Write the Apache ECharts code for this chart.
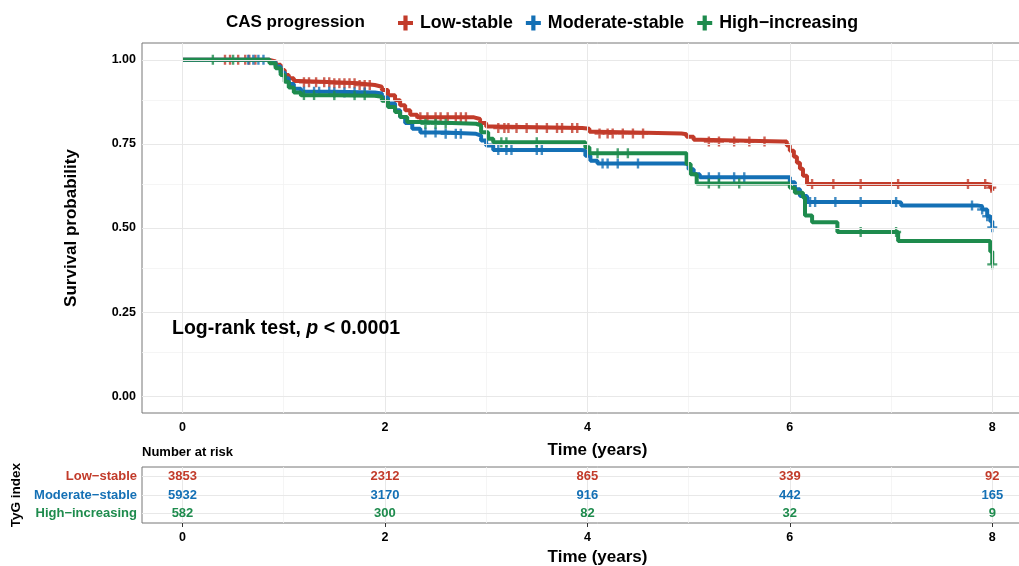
<!DOCTYPE html>
<html><head><meta charset="utf-8">
<script src="https://cdn.jsdelivr.net/npm/echarts@6/dist/echarts.min.js"></script>
<style>html,body{margin:0;padding:0;overflow:hidden;background:#fff;width:1019px;height:566px}#c{width:1060px;height:566px}</style>
</head><body><div id="c"></div><script>
const legendNames = ['Low-stable', 'Moderate-stable', 'High\u2212increasing'];
const tableLabels = ['Low\u2212stable', 'Moderate\u2212stable', 'High\u2212increasing'];
const groupColors = ['#C23B2A', '#1470B5', '#1E8B4D'];

const lowStable = [[0,1],[0.86,0.995],[0.92,0.985],[0.97,0.97],[1.01,0.955],[1.05,0.945],[1.1,0.937],[1.15,0.933],[1.5,0.93],[1.75,0.925],[1.9,0.92],[1.97,0.91],[2.03,0.895],[2.1,0.88],[2.15,0.865],[2.2,0.85],[2.25,0.837],[2.32,0.829],[2.88,0.824],[2.94,0.812],[3.0,0.802],[3.07,0.797],[3.95,0.795],[4.02,0.786],[4.1,0.781],[4.93,0.779],[4.98,0.771],[5.05,0.762],[5.12,0.757],[5.93,0.757],[5.97,0.745],[6.0,0.73],[6.04,0.712],[6.07,0.694],[6.1,0.676],[6.13,0.655],[6.17,0.631],[7.95,0.629],[7.98,0.62],[8.0,0.611]];
const moderateStable = [[0,1],[0.86,0.993],[0.92,0.98],[0.97,0.962],[1.01,0.945],[1.05,0.928],[1.1,0.914],[1.17,0.905],[1.5,0.903],[1.9,0.9],[1.97,0.888],[2.03,0.87],[2.1,0.85],[2.15,0.83],[2.2,0.812],[2.27,0.795],[2.35,0.784],[2.6,0.78],[2.9,0.775],[2.95,0.76],[3.0,0.745],[3.07,0.732],[3.93,0.731],[3.98,0.715],[4.03,0.7],[4.1,0.692],[4.95,0.69],[5.0,0.675],[5.05,0.66],[5.11,0.651],[5.95,0.651],[6.0,0.636],[6.05,0.615],[6.1,0.595],[6.17,0.577],[7.06,0.576],[7.1,0.567],[7.85,0.565],[7.9,0.555],[7.95,0.535],[7.98,0.52],[8.0,0.502]];
const highIncreasing = [[0,1],[0.86,0.99],[0.92,0.975],[0.97,0.955],[1.01,0.935],[1.05,0.918],[1.1,0.903],[1.17,0.895],[1.5,0.893],[1.9,0.89],[1.97,0.878],[2.03,0.86],[2.1,0.845],[2.15,0.83],[2.22,0.815],[2.35,0.81],[2.9,0.805],[2.95,0.785],[3.02,0.765],[3.07,0.755],[3.95,0.755],[3.98,0.74],[4.02,0.722],[4.95,0.722],[4.98,0.69],[5.02,0.66],[5.08,0.632],[5.95,0.632],[6.0,0.62],[6.05,0.605],[6.13,0.591],[6.15,0.537],[6.22,0.517],[6.47,0.488],[7.07,0.461],[7.98,0.43],[8.0,0.392]];

const lowCensor = [0.42,0.47,0.55,0.62,0.66,0.72,1.2,1.25,1.32,1.4,1.45,1.5,1.55,1.6,1.65,1.7,1.75,1.8,1.85,2.35,2.42,2.5,2.55,2.62,2.7,2.75,2.8,3.12,3.18,3.22,3.3,3.4,3.5,3.6,3.7,3.75,3.85,3.9,4.12,4.2,4.25,4.35,4.45,4.55,5.2,5.3,5.45,5.6,5.75,6.22,6.43,6.7,7.07,7.76,7.93,7.99];
const moderateCensor = [0.65,0.7,0.75,0.8,1.2,1.3,1.35,1.45,1.5,1.6,1.7,1.8,2.4,2.5,2.6,2.7,2.75,3.12,3.2,3.25,3.5,3.55,4.15,4.2,4.3,4.5,5.2,5.3,5.45,5.55,6.2,6.25,6.45,6.7,7.05,7.8,7.9,7.95,8.0];
const highCensor = [0.3,0.5,1.2,1.3,1.5,1.7,1.8,2.4,2.5,2.6,3.15,3.2,3.5,4.1,4.3,4.4,5.2,5.3,5.5,6.7,7.05,8.0];

const xTicks = [0, 2, 4, 6, 8];
const xMinor = [1, 3, 5, 7];
const yTicks = [0, 0.25, 0.5, 0.75, 1];
const yMinor = [0.125, 0.375, 0.625, 0.875];

const riskTimes = [0, 2, 4, 6, 8];
const riskLow = [3853, 2312, 865, 339, 92];
const riskModerate = [5932, 3170, 916, 442, 165];
const riskHigh = [582, 300, 82, 32, 9];

const curves = [lowStable, moderateStable, highIncreasing];
const censors = [lowCensor, moderateCensor, highCensor];
const risks = [riskLow, riskModerate, riskHigh];

function survAt(curve, t) {
  let s = curve[0][1];
  for (const p of curve) { if (p[0] <= t) s = p[1]; else break; }
  return s;
}
const FONT = '"Liberation Sans", Arial, sans-serif';
const PLUS = 'path://M3.8,0H6.2V3.8H10V6.2H6.2V10H3.8V6.2H0V3.8H3.8Z';
const PLUS_LEG = 'path://M3.6,0H6.4V3.6H10V6.4H6.4V10H3.6V6.4H0V3.6H3.6Z';

const chart = echarts.init(document.getElementById('c'), null, {renderer: 'canvas'});

function gridLines(xs, ys, color, width) {
  return [
    ...xs.map(v => ({xAxis: v, lineStyle: {color: color, width: width, type: 'solid'}})),
    ...ys.map(v => ({yAxis: v, lineStyle: {color: color, width: width, type: 'solid'}}))
  ];
}

const series = [];
series.push({
  type: 'line', xAxisIndex: 0, yAxisIndex: 0, data: [[0, 1]], showSymbol: false,
  lineStyle: {opacity: 0}, silent: true, z: 0,
  markLine: {silent: true, symbol: ['none', 'none'], label: {show: false}, animation: false,
    data: [...gridLines(xMinor, yMinor, '#f3f3f3', 0.8), ...gridLines(xTicks, yTicks, '#e8e8e8', 1)]}
});
series.push({
  type: 'line', xAxisIndex: 1, yAxisIndex: 1, data: [[0, 0]], showSymbol: false,
  lineStyle: {opacity: 0}, silent: true, z: 0,
  markLine: {silent: true, symbol: ['none', 'none'], label: {show: false}, animation: false,
    data: [...gridLines(xMinor, [], '#f3f3f3', 0.8), ...gridLines(xTicks, [0, 1, 2], '#e8e8e8', 1)]}
});
curves.forEach((c, i) => {
  series.push({
    name: legendNames[i], type: 'line', step: 'end', data: c, showSymbol: false,
    xAxisIndex: 0, yAxisIndex: 0, color: groupColors[i],
    lineStyle: {width: 4, color: groupColors[i]}, z: 2 + i
  });
});
censors.forEach((cs, i) => {
  series.push({
    type: 'scatter', xAxisIndex: 0, yAxisIndex: 0, symbol: PLUS, symbolSize: 10,
    itemStyle: {color: groupColors[i]}, z: 2 + i, silent: true,
    data: cs.map(t => [t, survAt(curves[i], t)])
  });
});
risks.forEach((r, i) => {
  series.push({
    type: 'scatter', xAxisIndex: 1, yAxisIndex: 1, symbolSize: 1,
    itemStyle: {color: 'rgba(0,0,0,0)'}, z: 5, silent: true,
    label: {show: true, position: 'inside', formatter: p => String(p.value[2]), opacity: 1,
      color: groupColors[i], fontWeight: 'bold', fontSize: 13, fontFamily: FONT,
      textBorderWidth: 0, textBorderColor: 'transparent'},
    data: riskTimes.map((t, k) => [t, 2 - i, r[k]])
  });
});

const axisLabelStyle = {color: '#000', fontWeight: 'bold', fontSize: 12.5, fontFamily: FONT};
const nameStyle = {color: '#000', fontWeight: 'bold', fontSize: 17, fontFamily: FONT};

chart.setOption({
  animation: false,
  backgroundColor: '#fff',
  textStyle: {fontFamily: FONT},
  legend: {
    left: 393, top: 9, itemWidth: 15, itemHeight: 15, itemGap: 13,
    data: legendNames.map(n => ({name: n, icon: PLUS_LEG})),
    textStyle: {color: '#000', fontWeight: 'bold', fontSize: 17.8, fontFamily: FONT, padding: [0, 0, 0, 2]}
  },
  grid: [
    {left: 142, top: 43, width: 911, height: 370, show: true, borderColor: '#777', borderWidth: 1, backgroundColor: 'transparent', outerBoundsMode: 'none', containLabel: false},
    {left: 142, top: 467, width: 911, height: 56, show: true, borderColor: '#777', borderWidth: 1, backgroundColor: 'transparent', outerBoundsMode: 'none', containLabel: false}
  ],
  xAxis: [
    {type: 'value', gridIndex: 0, min: -0.4, max: 8.6,
      axisLine: {show: false}, splitLine: {show: false},
      axisTick: {show: true, customValues: xTicks, length: 4, lineStyle: {color: '#333'}},
      axisLabel: Object.assign({customValues: xTicks, margin: 8}, axisLabelStyle),
      name: 'Time (years)', nameLocation: 'middle', nameGap: 29, nameTextStyle: nameStyle},
    {type: 'value', gridIndex: 1, min: -0.4, max: 8.6,
      axisLine: {show: false}, splitLine: {show: false},
      axisTick: {show: true, customValues: xTicks, length: 4, lineStyle: {color: '#333'}},
      axisLabel: Object.assign({customValues: xTicks, margin: 8}, axisLabelStyle),
      name: 'Time (years)', nameLocation: 'middle', nameGap: 26, nameTextStyle: nameStyle}
  ],
  yAxis: [
    {type: 'value', gridIndex: 0, min: -0.05, max: 1.05,
      axisLine: {show: false}, splitLine: {show: false},
      axisTick: {show: true, customValues: yTicks, length: 4, lineStyle: {color: '#333'}},
      axisLabel: Object.assign({customValues: yTicks, margin: 6, formatter: v => Number(v).toFixed(2)}, axisLabelStyle),
      name: 'Survival probability', nameLocation: 'middle', nameGap: 62, nameTextStyle: nameStyle},
    {type: 'category', gridIndex: 1, data: [tableLabels[2], tableLabels[1], tableLabels[0]],
      axisLine: {show: false}, splitLine: {show: false},
      axisTick: {show: true, alignWithLabel: true, length: 4, lineStyle: {color: '#333'}},
      axisLabel: {margin: 5, formatter: (v, i) => '{c' + i + '|' + v + '}',
        rich: {
          c0: {color: groupColors[2], fontWeight: 'bold', fontSize: 13, fontFamily: FONT},
          c1: {color: groupColors[1], fontWeight: 'bold', fontSize: 13, fontFamily: FONT},
          c2: {color: groupColors[0], fontWeight: 'bold', fontSize: 13, fontFamily: FONT}
        }},
      name: 'TyG index', nameLocation: 'middle', nameGap: 111, nameTextStyle: Object.assign({}, nameStyle, {fontSize: 13.5})}
  ],
  graphic: [
    {type: 'text', z: 100, left: 226, top: 14, style: {text: 'CAS progression', fill: '#000', font: 'bold 17px ' + FONT}},
    {type: 'text', z: 100, left: 142, top: 446, style: {text: 'Number at risk', fill: '#000', font: 'bold 13px ' + FONT}},
    {type: 'text', z: 100, left: 172, top: 319, style: {
      text: '{a|Log-rank test, }{b|p}{a| < 0.0001}',
      rich: {
        a: {fill: '#000', fontWeight: 'bold', fontSize: 19.5, fontFamily: FONT},
        b: {fill: '#000', fontWeight: 'bold', fontStyle: 'italic', fontSize: 19.5, fontFamily: FONT}
      }}}
  ],
  series: series
});
</script></body></html>
